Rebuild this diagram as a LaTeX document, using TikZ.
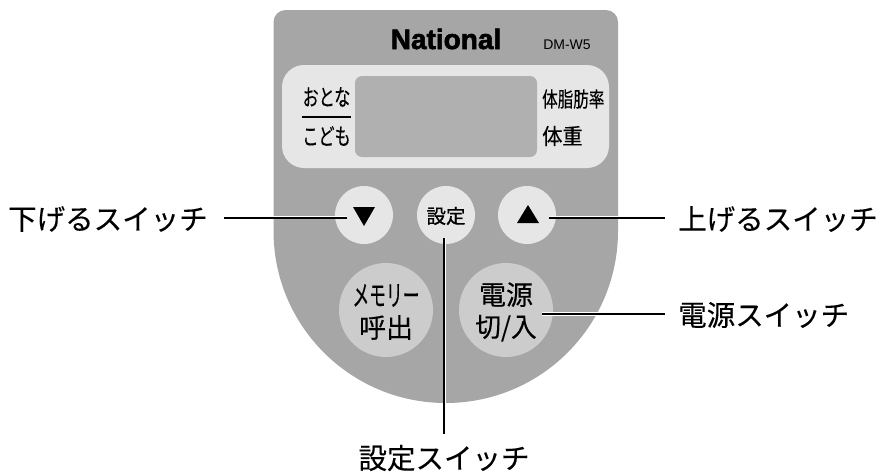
\documentclass[tikz,border=0pt]{standalone}
\usepackage{fontspec}
\usepackage{graphicx}
\setmainfont{Liberation Sans}
\newfontfamily\cjk[FakeBold=0.25]{Noto Sans CJK JP}
\newfontfamily\cjkb[FakeBold=0.8]{Noto Sans CJK JP}
\newfontfamily\brandfont[FakeBold=2.2]{Liberation Sans Bold}
\definecolor{bodygrey}{HTML}{A6A6A6}
\definecolor{btnlight}{HTML}{E6E6E6}
\definecolor{btnmid}{HTML}{CCCCCC}
\definecolor{lcdgrey}{HTML}{B0B0B0}
\tikzset{
  x=1pt,y=-1pt,
  small btn/.style={circle,fill=btnlight,minimum size=58pt,inner sep=0pt},
  big btn/.style={circle,fill=btnmid,minimum size=94pt,inner sep=0pt},
  leader/.style={line width=2pt,black,preaction={draw=white,line width=3.6pt}},
  callout/.style={font=\cjk\fontsize{28.5}{30}\selectfont,inner sep=0pt,text=black},
  face/.style={inner sep=0pt,text=black,align=center},
}
\begin{document}
\begin{tikzpicture}
\useasboundingbox (0,0) rectangle (880,472);
\fill[bodygrey] (273.5,22) arc[start angle=180,end angle=270,radius=12] -- (606,10) arc[start angle=270,end angle=360,radius=12] -- (618,231) arc[start angle=0,end angle=180,x radius=172.25,y radius=172] -- cycle;
\fill[btnlight,rounded corners=22pt] (282,65) rectangle (609,168);
\fill[lcdgrey,rounded corners=7pt] (355,76) rectangle (537,157);
\node[inner sep=0pt,text=black,font=\brandfont\fontsize{28}{28}\selectfont] (brand) at (446,39) {National};
\node[inner sep=0pt,text=black,font=\fontsize{14}{14}\selectfont] (model) at (567,45) {DM-W5};
\node[face,font=\cjk\fontsize{23}{23}\selectfont] (adult) at (326.5,97) {\scalebox{0.7}[1]{おとな}};
\node[face,font=\cjk\fontsize{23}{23}\selectfont] (child) at (326.5,136) {\scalebox{0.7}[1]{こども}};
\coordinate (bl) at (302,117);
\coordinate (br) at (351,117);
\draw[line width=1.4pt] (bl) -- (br);
\node[face,font=\cjk\fontsize{21}{21}\selectfont,anchor=west] (fat) at (542,99) {\scalebox{0.74}[1]{体脂肪率}};
\node[face,font=\cjk\fontsize{22}{22}\selectfont,anchor=west] (weight) at (542,136) {\scalebox{0.92}[1]{体重}};
\node[small btn] (down) at (364,215) {};
\node[small btn] (setb) at (446,215) {};
\node[small btn] (up) at (527,215) {};
\node[big btn] (mem) at (386,310) {};
\node[big btn] (pow) at (506,310) {};
\fill (353,207) -- (375,207) -- (364,226) -- cycle;
\fill (517,223) -- (539,223) -- (528,205) -- cycle;
\node[face,font=\cjkb\fontsize{19.5}{20}\selectfont] (settxt) at (446,216) {設定};
\node[face,font=\cjk\fontsize{27}{32}\selectfont] (memtxt) at (386,312) {\scalebox{0.62}[1.05]{メモリー}\\呼出};
\node[face,font=\cjk\fontsize{27}{32}\selectfont] (powtxt) at (506,312) {電源\\\scalebox{0.95}[1]{切/入}};
\node[callout,anchor=west] (ldown) at (8,219) {下げるスイッチ};
\node[callout,anchor=west] (lup) at (678,219) {上げるスイッチ};
\node[callout,anchor=west] (lpow) at (678,315) {電源スイッチ};
\node[callout] (lset) at (444,458) {設定スイッチ};
\coordinate (a1) at (224,217.5);
\coordinate (a2) at (347,217.5);
\coordinate (b1) at (549,217.5);
\coordinate (b2) at (665,217.5);
\coordinate (c1) at (542,314);
\coordinate (c2) at (665,314);
\coordinate (d1) at (444.3,238);
\coordinate (d2) at (444.3,434);
\draw[leader] (a1) -- (a2);
\draw[leader] (b1) -- (b2);
\draw[leader] (c1) -- (c2);
\draw[leader] (d1) -- (d2);
\end{tikzpicture}
\end{document}
